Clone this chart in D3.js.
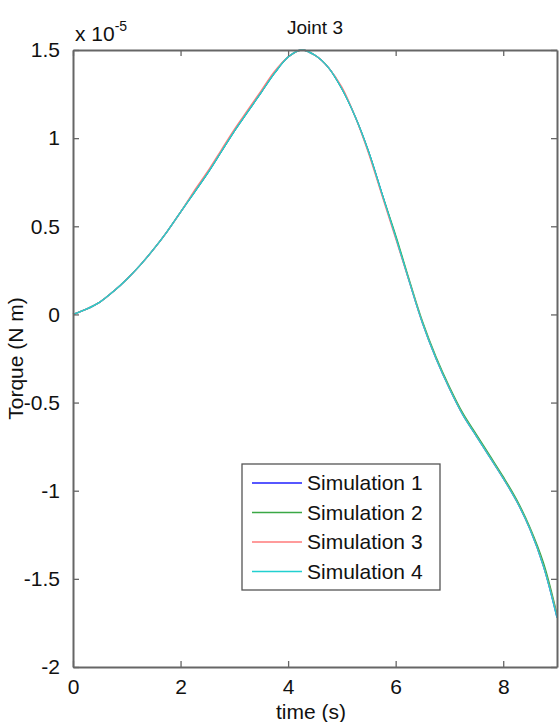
<!DOCTYPE html>
<html>
<head>
<meta charset="utf-8">
<script src="https://cdn.jsdelivr.net/npm/d3@7"></script>
<style>
  body { margin: 0; background: #fff; }
  svg text { font-family: "Liberation Sans", Arial, sans-serif; fill: #111; }
</style>
</head>
<body>
<svg id="chart" width="559" height="722"></svg>
<script>
// time samples (s)
const times = [0, 0.25, 0.5, 0.75, 1, 1.25, 1.5, 1.75, 2, 2.25, 2.5, 2.75, 3, 3.25, 3.5, 3.75,
               4, 4.25, 4.5, 4.75, 5, 5.25, 5.5, 5.75, 6, 6.25, 6.5, 6.75, 7, 7.25, 7.5, 7.75,
               8, 8.25, 8.5, 8.75, 9];

// torque values, x 1e-5 N m
const sim1 = [0, 0.03, 0.07, 0.13, 0.20, 0.28, 0.37, 0.47, 0.58, 0.69, 0.80, 0.92, 1.04, 1.15, 1.26, 1.37,
              1.46, 1.50, 1.47, 1.40, 1.28, 1.12, 0.92, 0.68, 0.44, 0.19, -0.05, -0.25, -0.42, -0.57, -0.69, -0.81,
              -0.93, -1.06, -1.22, -1.43, -1.72];
const sim2 = [0, 0.03, 0.07, 0.13, 0.20, 0.28, 0.37, 0.47, 0.58, 0.69, 0.80, 0.92, 1.04, 1.15, 1.26, 1.37,
              1.46, 1.50, 1.47, 1.40, 1.28, 1.12, 0.92, 0.68, 0.45, 0.20, -0.04, -0.24, -0.41, -0.56, -0.68, -0.80,
              -0.92, -1.05, -1.21, -1.41, -1.70];
const sim3 = [0, 0.03, 0.07, 0.13, 0.20, 0.28, 0.37, 0.47, 0.58, 0.70, 0.81, 0.93, 1.05, 1.16, 1.27, 1.38,
              1.46, 1.50, 1.47, 1.40, 1.29, 1.12, 0.91, 0.67, 0.43, 0.19, -0.05, -0.25, -0.42, -0.57, -0.69, -0.81,
              -0.93, -1.06, -1.22, -1.43, -1.71];
const sim4 = [0, 0.03, 0.07, 0.13, 0.20, 0.28, 0.37, 0.47, 0.58, 0.69, 0.80, 0.92, 1.04, 1.15, 1.26, 1.37,
              1.46, 1.50, 1.47, 1.40, 1.28, 1.12, 0.92, 0.68, 0.44, 0.19, -0.05, -0.25, -0.42, -0.57, -0.69, -0.81,
              -0.93, -1.06, -1.22, -1.43, -1.72];

const seriesNames = ["Simulation 1", "Simulation 2", "Simulation 3", "Simulation 4"];
const seriesColors = ["#1f1fff", "#3aa845", "#ff7a7a", "#22d0d0"];
const xTicks = [0, 2, 4, 6, 8];
const yTicks = [-2, -1.5, -1, -0.5, 0, 0.5, 1, 1.5];

const allSeries = [sim1, sim2, sim3, sim4];

let margin = {top: 50, right: 2, bottom: 55, left: 73},
    width = 559 - margin.left - margin.right,
    height = 722 - margin.top - margin.bottom;

let svg = d3.select("#chart")
            .append("g")
            .attr("transform", "translate(" + margin.left + "," + margin.top + ")");

let x = d3.scaleLinear().domain([0, 9]).range([0, width]);
let y = d3.scaleLinear().domain([-2, 1.5]).range([height, 0]);

// lines
let line = d3.line()
             .x(function(d, i) { return x(times[i]); })
             .y(function(d) { return y(d); })
             .curve(d3.curveCatmullRom);

allSeries.forEach(function(s, k) {
  svg.append("path")
     .datum(s)
     .attr("fill", "none")
     .attr("stroke", seriesColors[k])
     .attr("stroke-width", 1.3)
     .attr("d", line);
});

// axes (MATLAB style, ticks inward, box on)
const axisColor = "#666";
let axB = svg.append("g").attr("transform", "translate(0," + height + ")")
             .call(d3.axisBottom(x).tickValues(xTicks).tickSizeInner(-6).tickSizeOuter(0).tickPadding(12));
let axT = svg.append("g")
             .call(d3.axisTop(x).tickValues(xTicks).tickSizeInner(-6).tickSizeOuter(0).tickFormat(""));
let axL = svg.append("g")
             .call(d3.axisLeft(y).tickValues(yTicks).tickSizeInner(-6).tickSizeOuter(0).tickPadding(13)
                     .tickFormat(function(d) { return String(d); }));
let axR = svg.append("g").attr("transform", "translate(" + width + ",0)")
             .call(d3.axisRight(y).tickValues(yTicks).tickSizeInner(-6).tickSizeOuter(0).tickFormat(""));

[axB, axT, axL, axR].forEach(function(a) {
  a.select(".domain").attr("stroke", axisColor).attr("stroke-width", 2);
  a.selectAll(".tick line").attr("stroke", axisColor).attr("stroke-width", 1.3);
  a.selectAll(".tick text").attr("font-size", "21px").attr("fill", "#111")
   .attr("font-family", "Liberation Sans, Arial, sans-serif");
});

// exponent label
let expo = svg.append("text").attr("x", 2).attr("y", -9).attr("font-size", "21px");
expo.append("tspan").text("x 10");
expo.append("tspan").attr("font-size", "14px").attr("dy", -10).text("-5");

// title
svg.append("text")
   .attr("x", width / 2).attr("y", -16)
   .attr("text-anchor", "middle").attr("font-size", "19px")
   .text("Joint 3");

// x label
svg.append("text")
   .attr("x", width / 2 - 4).attr("y", height + 52)
   .attr("text-anchor", "middle").attr("font-size", "21px")
   .text("time (s)");

// y label
svg.append("text")
   .attr("transform", "rotate(-90)")
   .attr("x", -height / 2).attr("y", -50)
   .attr("text-anchor", "middle").attr("font-size", "21px")
   .text("Torque (N m)");

// legend
let lg = svg.append("g").attr("transform", "translate(" + (242 - margin.left) + "," + (464 - margin.top) + ")");
lg.append("rect").attr("width", 198).attr("height", 126)
  .attr("fill", "#fff").attr("stroke", "#555").attr("stroke-width", 1.3);
seriesNames.forEach(function(name, k) {
  let yy = 19 + k * 29.5;
  lg.append("line").attr("x1", 10).attr("x2", 60).attr("y1", yy).attr("y2", yy)
    .attr("stroke", seriesColors[k]).attr("stroke-width", 1.5);
  lg.append("text").attr("x", 65).attr("y", yy).attr("dy", "0.35em")
    .attr("font-size", "21px").text(name);
});
</script>
</body>
</html>
